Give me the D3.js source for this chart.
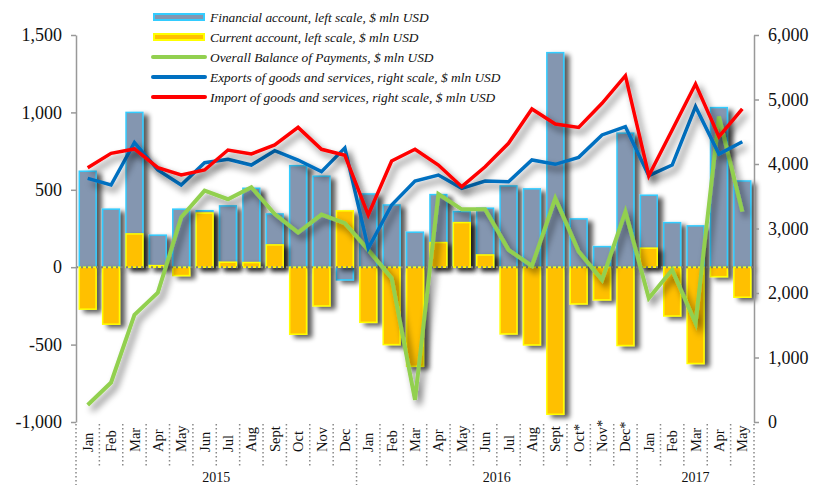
<!DOCTYPE html>
<html>
<head>
<meta charset="utf-8">
<script src="https://cdn.jsdelivr.net/npm/d3@7"></script>
<style>
  html, body { margin: 0; padding: 0; background: #fff; }
  svg { display: block; }
  text { font-family: "Liberation Serif", "Times New Roman", serif; fill: #111; }
</style>
</head>
<body>
<svg id="chart" width="824" height="485"></svg>
<script>
// ---------------- DATA ----------------
const months = ["Jan","Feb","Mar","Apr","May","Jun","Jul","Aug","Sept","Oct","Nov","Dec",
                "Jan","Feb","Mar","Apr","May","Jun","Jul","Aug","Sept","Oct*","Nov*","Dec*",
                "Jan","Feb","Mar","Apr","May"];
const years = [{label:"2015", start:0, end:12},{label:"2016", start:12, end:24},{label:"2017", start:24, end:29}];

const financialAccount = [620, 375, 1000, 207, 375, 365, 396, 510, 344, 656, 588, -82,
                          473, 402, 226, 469, 359, 381, 525, 506, 1386, 312, 133, 866,
                          465, 288, 267, 1031, 557];
const currentAccount   = [-271, -368, 215, 10, -54, 350, 32, 30, 144, -433, -250, 364,
                          -356, -500, -640, 159, 288, 79, -431, -502, -950, -237, -211, -506,
                          123, -315, -622, -61, -194];
const overallBoP       = [-890, -745, -308, -164, 323, 495, 439, 517, 344, 224, 340, 284,
                          112, -71, -857, 473, 374, 374, 112, 8, 445, 101, -82, 359,
                          -200, -17, -362, 973, 359];
const exportsGS        = [3778, 3674, 4331, 3907, 3674, 4020, 4072, 3984, 4206, 4062, 3881, 4250,
                          2693, 3364, 3736, 3829, 3623, 3736, 3726, 4062, 3995, 4103, 4450, 4579,
                          3819, 3984, 4889, 4155, 4346];
const importsGS        = [3943, 4165, 4233, 3943, 3829, 3907, 4217, 4155, 4295, 4568, 4228, 4135,
                          3209, 4047, 4228, 3984, 3648, 3958, 4321, 4853, 4620, 4568, 4941, 5369,
                          3819, 4527, 5240, 4423, 4853];

const leftTicks  = [-1000, -500, 0, 500, 1000, 1500];
const rightTicks = [0, 1000, 2000, 3000, 4000, 5000, 6000];

const legendLabels = [
  "Financial account, left scale, $ mln USD",
  "Current account, left scale, $ mln USD",
  "Overall Balance of Payments, $ mln USD",
  "Exports of goods and services, right scale, $ mln USD",
  "Import of goods and services, right scale, $ mln USD"
];

// ---------------- LAYOUT ----------------
const svg = d3.select("#chart");
const L = 76, R = 754, T = 35, B = 422;

const idx = d3.range(months.length);
const x = d3.scaleBand().domain(idx).range([L, R]).padding(0);
const yL = d3.scaleLinear().domain([-1000, 1500]).range([B, T]);
const yR = d3.scaleLinear().domain([0, 6000]).range([B, T]);
const barW = x.bandwidth() * 0.72;
const cx = i => x(i) + x.bandwidth() / 2;

const fmt = d => d3.format(",")(d).replace("\u2212", "-");

// shadow filters
const defs = svg.append("defs");
function addShadow(id, blur, dx, dy, op) {
  const f = defs.append("filter").attr("id", id)
    .attr("filterUnits", "userSpaceOnUse")
    .attr("x", 0).attr("y", 0).attr("width", 824).attr("height", 485);
  f.append("feGaussianBlur").attr("in", "SourceAlpha").attr("stdDeviation", blur).attr("result", "b");
  f.append("feOffset").attr("in", "b").attr("dx", dx).attr("dy", dy).attr("result", "o");
  const ct = f.append("feComponentTransfer").attr("in", "o").attr("result", "s");
  ct.append("feFuncA").attr("type", "linear").attr("slope", op);
  const m = f.append("feMerge");
  m.append("feMergeNode").attr("in", "s");
  m.append("feMergeNode").attr("in", "SourceGraphic");
}
addShadow("shBar", 2.5, 5, 3, 0.65);
addShadow("shLine", 3.5, 4, 5, 0.55);

// ---------------- BARS ----------------
const gFin = svg.append("g").attr("filter", "url(#shBar)");
gFin.selectAll("rect").data(financialAccount).join("rect")
  .attr("x", (d, i) => cx(i) - barW / 2)
  .attr("y", d => Math.min(yL(d), yL(0)))
  .attr("width", barW)
  .attr("height", d => Math.abs(yL(d) - yL(0)))
  .attr("fill", "#8496b0")
  .attr("stroke", "#33ccff")
  .attr("stroke-width", 1.5);

const gCur = svg.append("g").attr("filter", "url(#shBar)");
gCur.selectAll("rect").data(currentAccount).join("rect")
  .attr("x", (d, i) => cx(i) - barW / 2)
  .attr("y", d => Math.min(yL(d), yL(0)))
  .attr("width", barW)
  .attr("height", d => Math.abs(yL(d) - yL(0)))
  .attr("fill", "#ffc000")
  .attr("stroke", "#ffff00")
  .attr("stroke-width", 1.5);

// zero line (dotted)
svg.append("line")
  .attr("x1", L).attr("x2", R).attr("y1", yL(0)).attr("y2", yL(0))
  .attr("stroke", "#808080").attr("stroke-width", 2).attr("stroke-dasharray", "2,3");

// ---------------- LINES ----------------
const lineL = d3.line().x((d, i) => cx(i)).y(d => yL(d));
const lineRt = d3.line().x((d, i) => cx(i)).y(d => yR(d));

svg.append("path").datum(overallBoP).attr("d", lineL)
  .attr("fill", "none").attr("stroke", "#92d050").attr("stroke-width", 4)
  .attr("stroke-linejoin", "miter").attr("filter", "url(#shLine)");
svg.append("path").datum(exportsGS).attr("d", lineRt)
  .attr("fill", "none").attr("stroke", "#0070c0").attr("stroke-width", 3.5)
  .attr("filter", "url(#shLine)");
svg.append("path").datum(importsGS).attr("d", lineRt)
  .attr("fill", "none").attr("stroke", "#ff0000").attr("stroke-width", 3.5)
  .attr("filter", "url(#shLine)");

// ---------------- AXES ----------------
const axL = svg.append("g").attr("transform", `translate(${L},0)`)
  .call(d3.axisLeft(yL).tickValues(leftTicks).tickFormat(fmt).tickSize(5).tickSizeOuter(0).tickPadding(9));
const axR = svg.append("g").attr("transform", `translate(${R},0)`)
  .call(d3.axisRight(yR).tickValues(rightTicks).tickFormat(fmt).tickSize(5).tickSizeOuter(0).tickPadding(9));
[axL, axR].forEach(a => {
  a.select(".domain").attr("stroke", "#999").attr("stroke-width", 1.5);
  a.selectAll(".tick line").attr("stroke", "#999").attr("stroke-width", 1.5);
  a.selectAll(".tick text").attr("font-family", "Liberation Serif, serif")
    .attr("font-size", 18).attr("fill", "#111");
});

// month separators
const seps = d3.range(1, months.length);
svg.append("g").selectAll("line").data(seps.filter(i => !years.some(y => y.start === i))).join("line")
  .attr("x1", i => x(i)).attr("x2", i => x(i))
  .attr("y1", B + 2).attr("y2", 466)
  .attr("stroke", "#888").attr("stroke-width", 1.5).attr("stroke-dasharray", "1.5,2.5");
const ySeps = [0, 12, 24, 29];
svg.append("g").selectAll("line").data(ySeps).join("line")
  .attr("x1", i => i === 29 ? R : x(i)).attr("x2", i => i === 29 ? R : x(i))
  .attr("y1", B + 2).attr("y2", 485)
  .attr("stroke", "#888").attr("stroke-width", 1.5).attr("stroke-dasharray", "1.5,2.5");

// month labels
svg.append("g").selectAll("text").data(months).join("text")
  .attr("transform", (d, i) => `translate(${cx(i)},452) rotate(-90)`)
  .attr("dy", "0.35em")
  .attr("text-anchor", "start")
  .attr("font-size", 14.5)
  .text(d => d);

// year labels
svg.append("g").selectAll("text").data(years).join("text")
  .attr("x", d => (x(d.start) + (d.end >= months.length ? R : x(d.end))) / 2)
  .attr("y", 482)
  .attr("text-anchor", "middle")
  .attr("font-size", 14)
  .text(d => d.label);

// ---------------- LEGEND ----------------
const lg = svg.append("g");
const rowY = i => 17 + i * 20;
lg.append("rect").attr("x", 154).attr("y", rowY(0) - 3).attr("width", 50).attr("height", 6)
  .attr("fill", "#8496b0").attr("stroke", "#33ccff").attr("stroke-width", 2);
lg.append("rect").attr("x", 154).attr("y", rowY(1) - 3).attr("width", 50).attr("height", 6)
  .attr("fill", "#ffc000").attr("stroke", "#ffff00").attr("stroke-width", 2);
const lineCols = ["#92d050", "#0070c0", "#ff0000"];
lineCols.forEach((c, k) => {
  lg.append("line").attr("x1", 153).attr("x2", 205).attr("y1", rowY(k + 2)).attr("y2", rowY(k + 2))
    .attr("stroke", c).attr("stroke-width", 4).attr("stroke-linecap", "round");
});
lg.selectAll("text").data(legendLabels).join("text")
  .attr("x", 210).attr("y", (d, i) => rowY(i) + 5)
  .attr("font-size", 13.4).attr("font-style", "italic")
  .text(d => d);
</script>
</body>
</html>
